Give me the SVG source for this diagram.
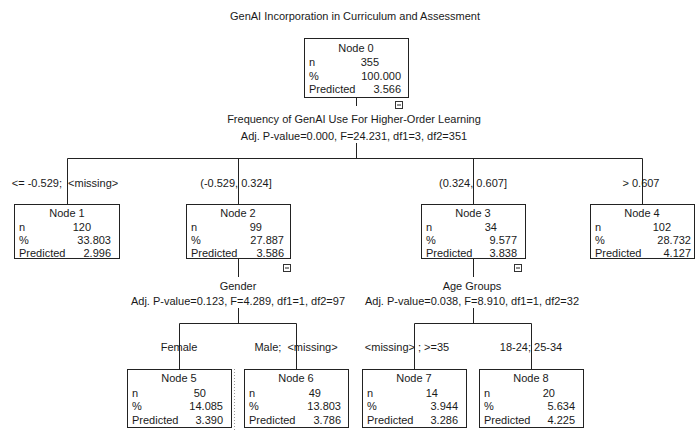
<svg xmlns="http://www.w3.org/2000/svg" width="695" height="430" viewBox="0 0 695 430">
<style>
text{font-family:"Liberation Sans",Arial,sans-serif;font-size:11px;fill:#1a1a1a;white-space:pre}
.c{text-anchor:middle}
.e{text-anchor:end}
.box{fill:#fff;stroke:#222;stroke-width:1}
.ln{stroke:#222;stroke-width:1;fill:none}
.mb{fill:#fff;stroke:#333;stroke-width:1}
</style>
<rect width="695" height="430" fill="#fff"/>
<text class="c" x="355" y="20">GenAI Incorporation in Curriculum and Assessment</text>

<g id="connectors">
<path class="ln" d="M356.5 97.5V106 M356.5 143V158.5 M67.5 158.5H642.5 M67.5 158.5V204.5 M238.5 158.5V204.5 M473.5 158.5V204.5 M642.5 158.5V204.5"/>
<path class="ln" d="M238.5 258.5V277 M238.5 308V323.5 M179.5 323.5H296.5 M179.5 323.5V369.5 M296.5 323.5V369.5"/>
<path class="ln" d="M473.5 258.5V277 M473.5 308V323.5 M414.5 323.5H531.5 M414.5 323.5V369.5 M531.5 323.5V369.5"/>
<path d="M234.5 369V430" stroke="#999" stroke-width="1" stroke-dasharray="1,2" fill="none"/>
</g>

<g id="labels">
<text class="c" x="354" y="123">Frequency of GenAI Use For Higher-Order Learning</text>
<text class="c" x="354" y="140">Adj. P-value=0.000, F=24.231, df1=3, df2=351</text>
<text class="c" x="65" y="187" xml:space="preserve">&lt;= -0.529;  &lt;missing&gt;</text>
<text class="c" x="236" y="187">(-0.529, 0.324]</text>
<text class="c" x="473" y="187">(0.324, 0.607]</text>
<text class="c" x="641" y="187">&gt; 0.607</text>
<text class="c" x="238" y="290">Gender</text>
<text class="c" x="238" y="305">Adj. P-value=0.123, F=4.289, df1=1, df2=97</text>
<text class="c" x="472" y="290">Age Groups</text>
<text class="c" x="472" y="305">Adj. P-value=0.038, F=8.910, df1=1, df2=32</text>
<text class="c" x="179" y="351">Female</text>
<text class="c" x="296" y="351" xml:space="preserve">Male;  &lt;missing&gt;</text>
<text class="c" x="407" y="351">&lt;missing&gt; ; &gt;=35</text>
<text class="c" x="531" y="351">18-24; 25-34</text>
</g>

<g id="node0">
<rect class="box" x="304.5" y="38.5" width="104" height="59"/>
<text class="c" x="356" y="52">Node 0</text>
<text x="309" y="66">n</text><text class="e" x="379" y="66">355</text>
<text x="309" y="80">%</text><text class="e" x="401" y="80">100.000</text>
<text x="309" y="93">Predicted</text><text class="e" x="401" y="93">3.566</text>
<rect class="mb" x="395.5" y="101.5" width="7" height="7"/><path class="ln" d="M397 105H401"/>
</g>

<g id="node1">
<rect class="box" x="14.5" y="204.5" width="105" height="54"/>
<text class="c" x="67" y="217">Node 1</text>
<text x="19" y="231">n</text><text class="e" x="91" y="231">120</text>
<text x="19" y="244">%</text><text class="e" x="111" y="244">33.803</text>
<text x="19" y="257">Predicted</text><text class="e" x="111" y="257">2.996</text>
</g>

<g id="node2">
<rect class="box" x="186.5" y="204.5" width="104" height="54"/>
<text class="c" x="238" y="217">Node 2</text>
<text x="191" y="231">n</text><text class="e" x="262" y="231">99</text>
<text x="191" y="244">%</text><text class="e" x="284" y="244">27.887</text>
<text x="191" y="257">Predicted</text><text class="e" x="284" y="257">3.586</text>
<rect class="mb" x="283.5" y="264.5" width="7" height="7"/><path class="ln" d="M285 268H289"/>
</g>

<g id="node3">
<rect class="box" x="421.5" y="204.5" width="104" height="54"/>
<text class="c" x="473" y="217">Node 3</text>
<text x="426" y="231">n</text><text class="e" x="497" y="231">34</text>
<text x="426" y="244">%</text><text class="e" x="517" y="244">9.577</text>
<text x="426" y="257">Predicted</text><text class="e" x="517" y="257">3.838</text>
<rect class="mb" x="514.5" y="264.5" width="7" height="7"/><path class="ln" d="M516 268H520"/>
</g>

<g id="node4">
<rect class="box" x="590.5" y="204.5" width="104" height="54"/>
<text class="c" x="642" y="217">Node 4</text>
<text x="595" y="231">n</text><text class="e" x="671" y="231">102</text>
<text x="595" y="244">%</text><text class="e" x="691" y="244">28.732</text>
<text x="595" y="257">Predicted</text><text class="e" x="691" y="257">4.127</text>
</g>

<g id="node5">
<rect class="box" x="127.5" y="369.5" width="104" height="58"/>
<text class="c" x="179" y="382">Node 5</text>
<text x="132" y="397">n</text><text class="e" x="206" y="397">50</text>
<text x="132" y="410">%</text><text class="e" x="223" y="410">14.085</text>
<text x="132" y="424">Predicted</text><text class="e" x="223" y="424">3.390</text>
</g>

<g id="node6">
<rect class="box" x="244.5" y="369.5" width="104" height="58"/>
<text class="c" x="296" y="382">Node 6</text>
<text x="249" y="397">n</text><text class="e" x="321" y="397">49</text>
<text x="249" y="410">%</text><text class="e" x="341" y="410">13.803</text>
<text x="249" y="424">Predicted</text><text class="e" x="341" y="424">3.786</text>
</g>

<g id="node7">
<rect class="box" x="362.5" y="369.5" width="104" height="58"/>
<text class="c" x="414" y="382">Node 7</text>
<text x="367" y="397">n</text><text class="e" x="438" y="397">14</text>
<text x="367" y="410">%</text><text class="e" x="458" y="410">3.944</text>
<text x="367" y="424">Predicted</text><text class="e" x="458" y="424">3.286</text>
</g>

<g id="node8">
<rect class="box" x="479.5" y="369.5" width="104" height="58"/>
<text class="c" x="531" y="382">Node 8</text>
<text x="484" y="397">n</text><text class="e" x="555" y="397">20</text>
<text x="484" y="410">%</text><text class="e" x="575" y="410">5.634</text>
<text x="484" y="424">Predicted</text><text class="e" x="575" y="424">4.225</text>
</g>
</svg>
